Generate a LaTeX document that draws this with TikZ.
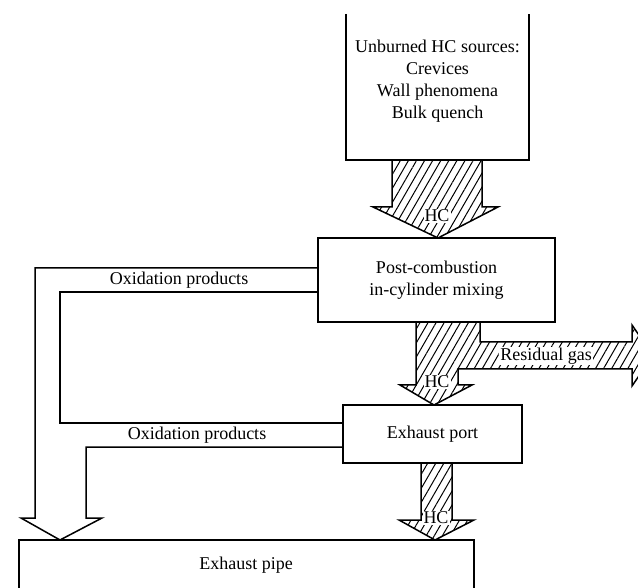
\documentclass[tikz,border=0pt]{standalone}
\usepackage{fontspec}
\setmainfont{Liberation Serif}
\usetikzlibrary{patterns.meta}

\tikzset{
box/.style={draw, line width=1.5pt, fill=white, align=center, inner sep=0pt},
hatched/.style={draw, line width=1.5pt, pattern={Lines[angle=60,distance=7pt,line width=1pt]}},
outline/.style={draw, line width=1.5pt},
lbl/.style={fill=white, inner sep=1pt}
}

\begin{document}
\begin{tikzpicture}[x=1pt, y=-1pt, font=\fontsize{18}{22}\selectfont]
\useasboundingbox (0,0) rectangle (638,588);
\clip (0,0) rectangle (638,588);

% HC sources, open at the top
\draw[outline] (346,14) -- (346,160) -- (529,160) -- (529,14);
\node[align=center] (src) at (437.5,81) {Unburned HC sources:\\Crevices\\Wall phenomena\\Bulk quench};

% hatched HC flows
\draw[hatched] (392,160) -- (392,207) -- (373,207) -- (438,238) -- (498,207) -- (482,207) -- (482,160);
\draw[hatched] (416,322) -- (416,385) -- (400,385) -- (434,405) -- (472,385) -- (458,385) -- (458,369)
  -- (632,369) -- (632,386) -- (653,355.5) -- (632,325) -- (632,342) -- (480,342) -- (480,322);
\draw[hatched] (421,463) -- (421,520) -- (399,520) -- (435,540) -- (474,520) -- (452,520) -- (452,463);

\node[box, minimum width=237pt, minimum height=84pt] (mix) at (436.5,280) {Post-combustion\\in-cylinder mixing};
\node[box, minimum width=179pt, minimum height=58pt] (port) at (432.5,434) {Exhaust port};

% exhaust pipe, open at the bottom
\draw[outline] (19,600) -- (19,540) -- (474,540) -- (474,600);
\node (pipe) at (246,565) {Exhaust pipe};

% oxidation products
\draw[outline] (mix.west |- 0,268) -- (35,268) -- (35,518) -- (21,518) -- (60,540) -- (102,518) -- (86,518) -- (86,447) -- (port.west |- 0,447);
\draw[outline] (mix.west |- 0,292) -- (60,292) -- (60,423) -- (port.west |- 0,423);
\node (ox1) at (179,280) {Oxidation products};
\node (ox2) at (197,435) {Oxidation products};

% labels on the hatched flows
\node[lbl] (hc1) at (437,216) {HC};
\node[lbl] (hc2) at (437,382) {HC};
\node[lbl] (hc3) at (436,518) {HC};
\node[lbl] (res) at (546,356) {Residual gas};
\end{tikzpicture}
\end{document}
